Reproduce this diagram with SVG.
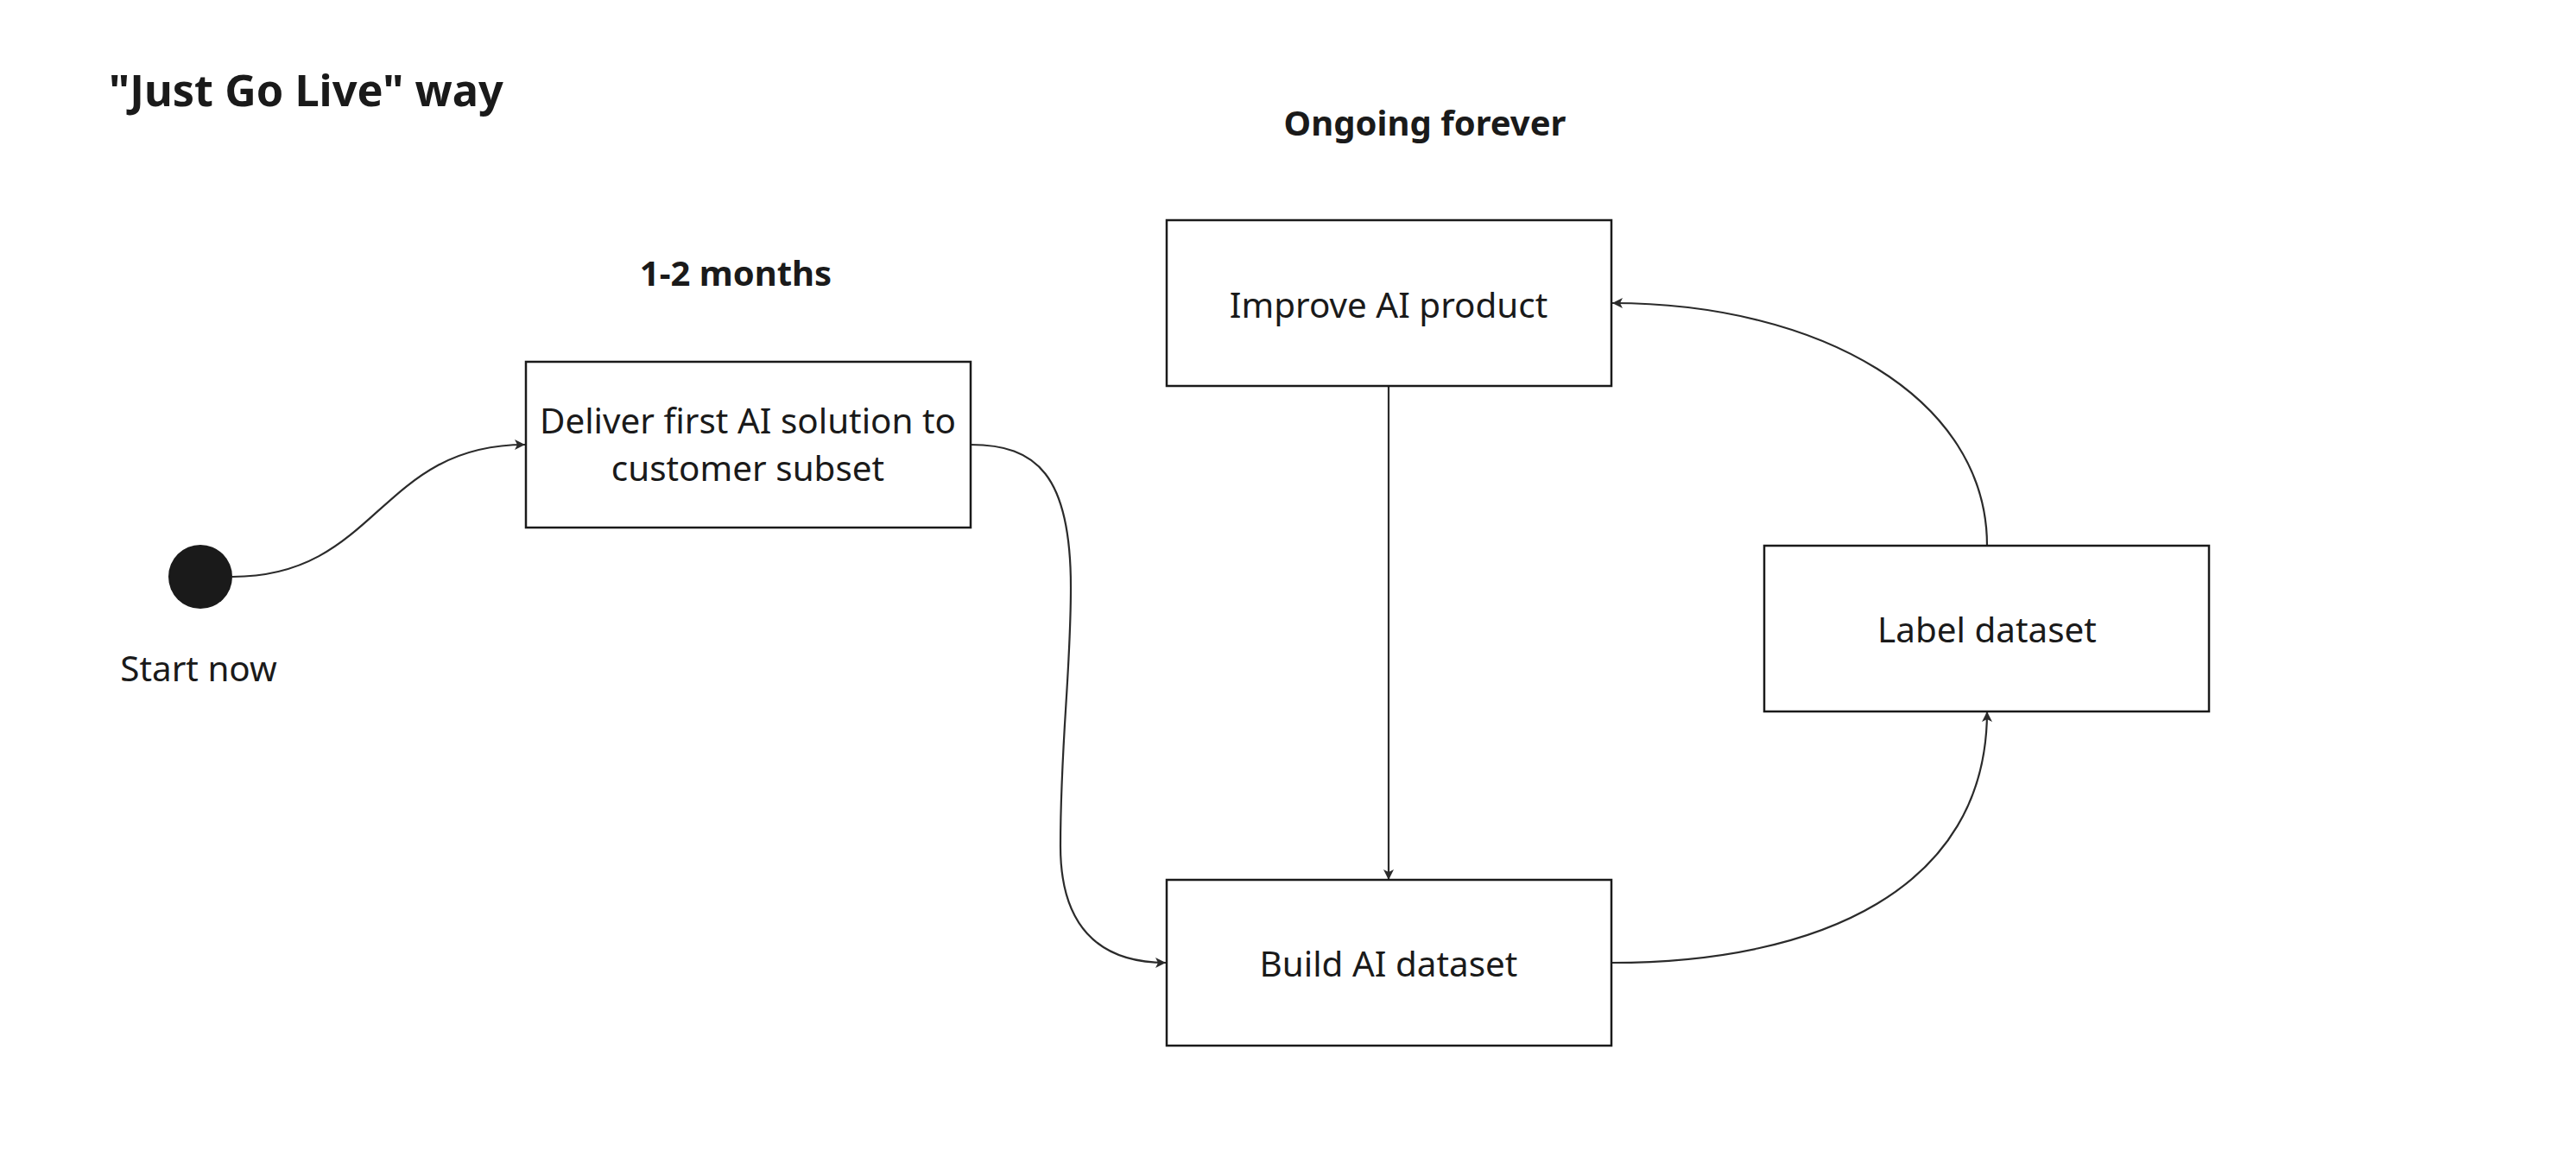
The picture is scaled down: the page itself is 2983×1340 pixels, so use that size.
<svg xmlns="http://www.w3.org/2000/svg" width="2983" height="1340" viewBox="0 0 2983 1340">
<style>
  .box { fill: #ffffff; stroke: #1a1a1a; stroke-width: 2.5; }
  .lbl { font-family: "Noto Sans", "Open Sans", "DejaVu Sans", sans-serif; font-size: 40.4px; fill: #1a1a1a; text-anchor: middle; }
  .hdr { font-family: "Noto Sans", "Open Sans", "DejaVu Sans", sans-serif; font-size: 40px; font-weight: bold; fill: #1a1a1a; text-anchor: middle; }
  .conn { fill: none; stroke: #2b2b2b; stroke-width: 2.2; marker-end: url(#arr); }
</style>
<defs>
  <marker id="arr" markerUnits="userSpaceOnUse" markerWidth="14" markerHeight="14" refX="13" refY="7" orient="auto">
    <path d="M1,1 L13,7 L1,13 L4,7 Z" fill="#2b2b2b"/>
  </marker>
</defs>
<rect x="0" y="0" width="2983" height="1340" fill="#ffffff"/>

<g id="title">
  <text x="126" y="123" font-family="Noto Sans, Open Sans, sans-serif" font-size="50.5" font-weight="bold" fill="#1a1a1a">"Just Go Live" way</text>
</g>
<g id="phase-ongoing"><text class="hdr" x="1650" y="157">Ongoing forever</text></g>
<g id="phase-months"><text class="hdr" x="852" y="331">1-2 months</text></g>

<g id="connectors">
  <path class="conn" d="M269,668 C438,668 438,515 608,515"/>
  <path class="conn" d="M1124,515 C1200,515 1240,550 1240,680 C1240,780 1228,860 1228,980 C1228,1070 1270,1115 1350,1115"/>
  <path class="conn" d="M1608,447 L1608,1019"/>
  <path class="conn" d="M1866,1115 C2106,1115 2301,1030 2301,824"/>
  <path class="conn" d="M2301,632 C2301,460 2106,351 1867,351"/>
</g>

<g id="start">
  <circle cx="232" cy="668" r="37" fill="#1a1a1a"/>
  <text class="lbl" x="230" y="789">Start now</text>
</g>
<g id="deliver">
  <rect class="box" x="609" y="419" width="515" height="192"/>
  <text class="lbl" x="866" y="502">Deliver first AI solution to</text>
  <text class="lbl" x="866" y="557">customer subset</text>
</g>
<g id="improve">
  <rect class="box" x="1351" y="255" width="515" height="192"/>
  <text class="lbl" x="1608" y="368">Improve AI product</text>
</g>
<g id="build">
  <rect class="box" x="1351" y="1019" width="515" height="192"/>
  <text class="lbl" x="1608" y="1131">Build AI dataset</text>
</g>
<g id="label">
  <rect class="box" x="2043" y="632" width="515" height="192"/>
  <text class="lbl" x="2301" y="744">Label dataset</text>
</g>
</svg>
